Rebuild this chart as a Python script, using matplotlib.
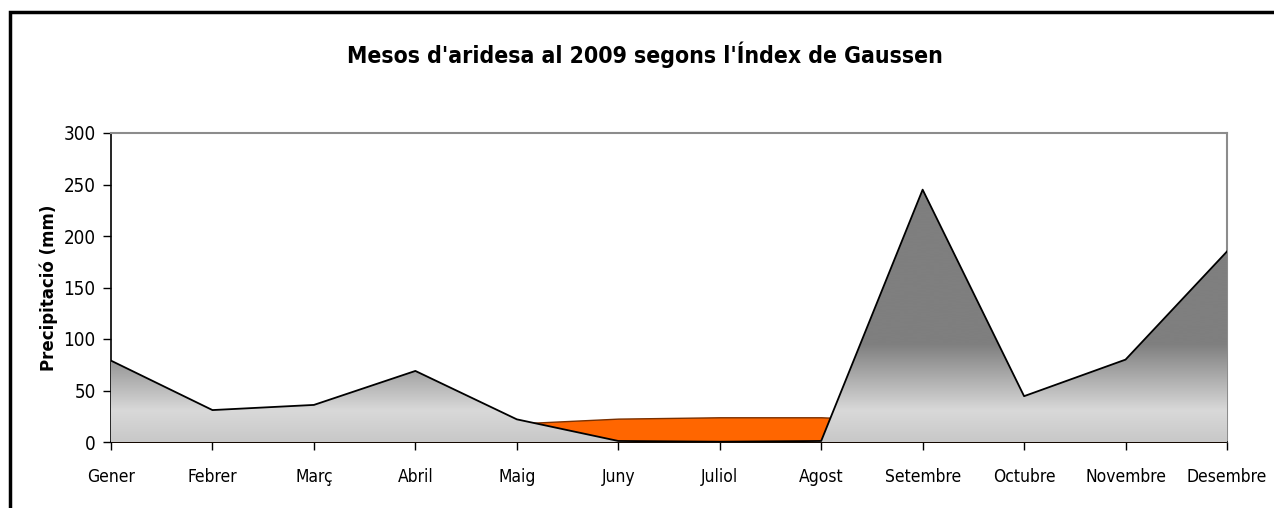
import matplotlib
matplotlib.use("Agg")
import matplotlib.pyplot as plt
import numpy as np
from matplotlib.colors import LinearSegmentedColormap
from matplotlib.patches import Rectangle

# Monthly precipitation (mm) and 2x temperature (Gaussen index), 2009
months = ["Gener", "Febrer", "Març", "Abril", "Maig", "Juny",
          "Juliol", "Agost", "Setembre", "Octubre", "Novembre", "Desembre"]
precip = [79, 31, 36, 69, 22, 1, 0.3, 1, 245, 44.5, 80, 185]
temp2x = [10, 10, 13, 14, 18, 22.7, 24, 24, 20, 17, 12, 12.5]

plt.rcParams["font.family"] = ["DejaVu Sans"]
plt.rcParams["font.stretch"] = "condensed"

fig = plt.figure(figsize=(12.74, 5.08), dpi=100)
W, H = 1274, 508
# plot area in pixels: x 111..1227, y 133..442
ax = fig.add_axes([111 / W, 1 - 442 / H, 1116 / W, 309 / H])

x = np.arange(len(months))

# orange series behind
ax.fill_between(x, 0, temp2x, facecolor="#ff6600", edgecolor="#7a3000",
                linewidth=1.0, zorder=2)

# grey series on top, with vertical gradient in data units
poly = ax.fill_between(x, 0, precip, facecolor="none", edgecolor="none", zorder=3)
stops = [(0.0, "#c8c8c8"), (30 / 300, "#d9d9d9"), (95 / 300, "#7f7f7f"), (1.0, "#7f7f7f")]
cmap = LinearSegmentedColormap.from_list("grad", stops)
grad = np.linspace(0, 1, 512).reshape(-1, 1)
img = ax.imshow(grad, cmap=cmap, origin="lower", aspect="auto",
                extent=[x[0], x[-1], 0, 300], zorder=3, interpolation="bicubic")
img.set_clip_path(poly.get_paths()[0], transform=ax.transData)
ax.plot(x, precip, color="black", linewidth=1.3, zorder=4)

ax.set_xlim(x[0], x[-1])
ax.set_ylim(0, 300)
ax.set_yticks(range(0, 301, 50))
ax.set_xticks(x)
ax.set_xticklabels(months)
ax.tick_params(axis="both", direction="out", length=6, width=1, colors="black")
ax.tick_params(axis="x", pad=13, labelsize=12.5)
ax.tick_params(axis="y", pad=5, labelsize=13.5)
for side in ("top", "right"):
    ax.spines[side].set_color("#8c8c8c")
    ax.spines[side].set_linewidth(1.5)
for side in ("left", "bottom"):
    ax.spines[side].set_color("black")
    ax.spines[side].set_linewidth(1.2)
ax.set_ylabel("Precipitació (mm)", fontsize=12, fontweight="bold", labelpad=4,
              fontstretch="normal")

fig.text(645 / W, 1 - 55 / H, "Mesos d'aridesa al 2009 segons l'Índex de Gaussen",
         ha="center", va="center", fontsize=16.5, fontweight="bold")

# outer chart frame (cropped at right and bottom)
fig.patches.append(Rectangle((9.5 / W, -0.1), 1.2, (1 - 12 / H) + 0.1,
                             transform=fig.transFigure, fill=False,
                             edgecolor="black", linewidth=2.5))

fig.savefig("out.png", dpi=100)
